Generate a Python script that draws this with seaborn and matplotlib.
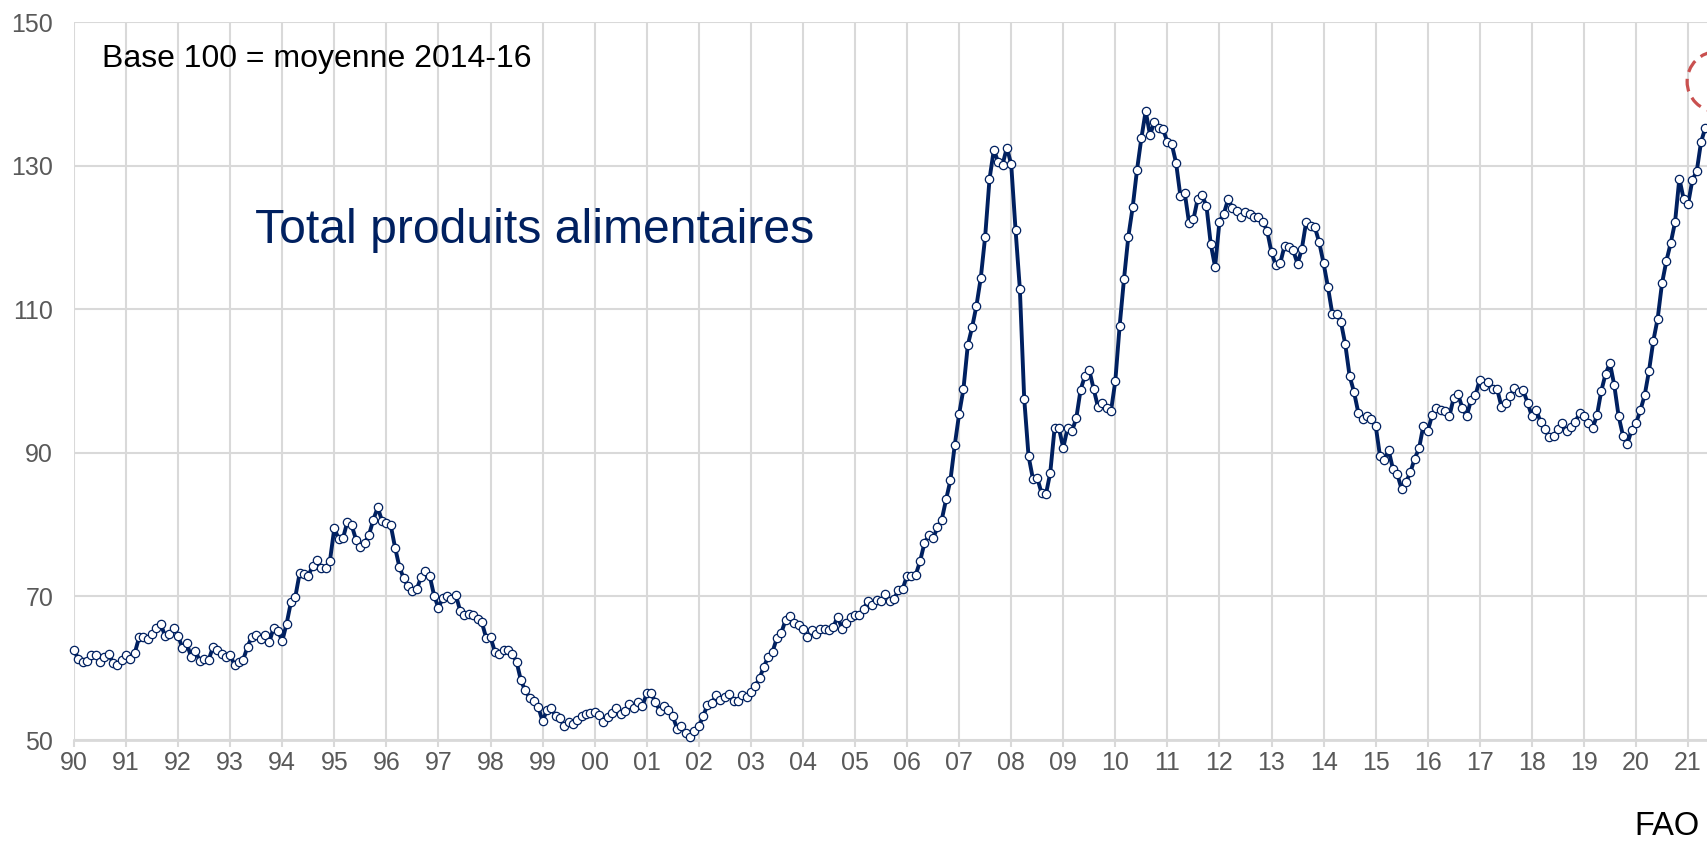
import numpy as np
import pandas as pd
import matplotlib
matplotlib.use("Agg")
import matplotlib.pyplot as plt
import seaborn as sns
from matplotlib.patches import Ellipse

# ---------------- data (monthly FAO food price index) ----------------
year_labels = ["90", "91", "92", "93", "94", "95", "96", "97", "98", "99", "00", "01",
               "02", "03", "04", "05", "06", "07", "08", "09", "10", "11", "12", "13",
               "14", "15", "16", "17", "18", "19", "20", "21"]

food_index = [
    62.5, 61.3, 60.9, 61.0, 61.8, 61.9, 60.8, 61.5, 62.0, 60.7, 60.5, 61.1,    # 1990
    61.8, 61.3, 62.1, 64.3, 64.4, 64.0, 64.8, 65.6, 66.1, 64.5, 64.8, 65.6,    # 1991
    64.5, 62.8, 63.5, 61.5, 62.4, 61.0, 61.3, 61.1, 62.9, 62.5, 62.0, 61.5,    # 1992
    61.9, 60.4, 60.9, 61.2, 63.0, 64.4, 64.6, 64.1, 64.6, 63.6, 65.6, 65.2,    # 1993
    63.8, 66.2, 69.2, 69.9, 73.2, 73.1, 72.8, 74.3, 75.1, 73.9, 73.9, 75.0,    # 1994
    79.5, 78.0, 78.1, 80.4, 79.9, 77.9, 76.9, 77.4, 78.6, 80.7, 82.4, 80.5,    # 1995
    80.2, 79.9, 76.8, 74.1, 72.5, 71.4, 70.8, 71.0, 72.7, 73.5, 72.8, 70.1,    # 1996
    68.4, 69.8, 70.0, 69.7, 70.2, 68.0, 67.4, 67.6, 67.4, 66.9, 66.4, 64.2,    # 1997
    64.3, 62.3, 62.0, 62.6, 62.5, 62.0, 60.9, 58.3, 56.9, 55.9, 55.4, 54.6,    # 1998
    52.6, 54.2, 54.5, 53.3, 53.1, 51.9, 52.5, 52.2, 52.8, 53.3, 53.6, 53.8,    # 1999
    53.95, 53.5, 52.5, 53.2, 53.7, 54.4, 53.65, 54.1, 54.95, 54.5, 55.3, 54.7,  # 2000
    56.5, 56.5, 55.3, 54.1, 54.7, 54.2, 53.3, 51.6, 51.9, 50.95, 50.4, 51.2,   # 2001
    51.9, 53.3, 54.9, 55.1, 56.2, 55.6, 56.0, 56.4, 55.4, 55.4, 56.2, 56.0,    # 2002
    56.7, 57.5, 58.6, 60.2, 61.6, 62.3, 64.2, 64.9, 66.7, 67.3, 66.3, 66.0,    # 2003
    65.5, 64.4, 65.3, 64.7, 65.4, 65.5, 65.3, 65.7, 67.2, 65.5, 66.3, 67.1,    # 2004
    67.4, 67.4, 68.3, 69.35, 68.8, 69.45, 69.35, 70.4, 69.3, 69.6, 70.9, 71.05,  # 2005
    72.9, 72.8, 73.0, 74.9, 77.4, 78.5, 78.1, 79.6, 80.7, 83.5, 86.2, 91.1,    # 2006
    95.4, 98.9, 105.0, 107.5, 110.5, 114.4, 120.1, 128.1, 132.2, 130.5, 130.1, 132.5,  # 2007
    130.2, 121.1, 112.8, 97.55, 89.55, 86.4, 86.5, 84.4, 84.2, 87.2, 93.4, 93.4,  # 2008
    90.7, 93.45, 93.0, 94.8, 98.8, 100.7, 101.5, 98.9, 96.4, 96.9, 96.3, 95.8,  # 2009
    100.0, 107.7, 114.2, 120.1, 124.2, 129.4, 133.8, 137.6, 134.25, 136.1, 135.3, 135.05,  # 2010
    133.3, 133.0, 130.4, 125.75, 126.2, 122.0, 122.5, 125.4, 125.85, 124.4, 119.05, 115.9,  # 2011
    122.2, 123.3, 125.3, 124.1, 123.7, 122.8, 123.5, 123.2, 122.9, 122.9, 122.2, 120.9,  # 2012
    117.9, 116.1, 116.4, 118.8, 118.7, 118.2, 116.3, 118.45, 122.2, 121.6, 121.4, 119.3,  # 2013
    116.4, 113.1, 109.4, 109.4, 108.2, 105.1, 100.7, 98.5, 95.6, 94.7, 95.1, 94.7,  # 2014
    93.8, 89.55, 89.05, 90.35, 87.7, 87.0, 84.9, 85.9, 87.3, 89.2, 90.6, 93.8,  # 2015
    93.0, 95.2, 96.2, 95.9, 95.8, 95.1, 97.7, 98.15, 96.2, 95.1, 97.4, 98.0,   # 2016
    100.2, 99.3, 99.9, 98.9, 98.9, 96.4, 96.9, 97.9, 99.0, 98.5, 98.7, 97.0,   # 2017
    95.1, 96.0, 94.3, 93.3, 92.2, 92.3, 93.3, 94.1, 93.1, 93.6, 94.3, 95.5,    # 2018
    95.1, 94.1, 93.4, 95.2, 98.6, 101.0, 102.5, 99.4, 95.1, 92.4, 91.2, 93.2,  # 2019
    94.1, 95.9, 98.0, 101.4, 105.6, 108.7, 113.6, 116.7, 119.2, 122.1, 128.2, 125.3,  # 2020
    124.6, 128.0, 129.2, 133.3, 135.3,                                          # 2021
]

y_ticks = [50, 70, 90, 110, 130, 150]
title_text = "Total produits alimentaires"
base_note = "Base 100 = moyenne 2014-16"
source_note = "FAO"

# highlight annotation (dashed circle just beyond the last value)
highlight_month = 378.7
highlight_value = 141.7

# ---------------- styling ----------------
sns.set_theme(style="white")
plt.rcParams["font.family"] = ["Liberation Sans", "DejaVu Sans"]

navy = "#002060"
grid_col = "#d9d9d9"
tick_col = "#595959"

W, H = 1708, 842
fig = plt.figure(figsize=(W / 100, H / 100), dpi=100)
ax = fig.add_axes([74 / W, 102 / H, 1 - 74 / W, 718 / H])

df = pd.DataFrame({"month": np.arange(len(food_index)), "index": food_index})

sns.lineplot(data=df, x="month", y="index", ax=ax, color=navy, linewidth=2.8,
             marker="o", markersize=6.0, markerfacecolor="white",
             markeredgecolor=navy, markeredgewidth=0.9, clip_on=False, zorder=5)

ax.set_xlim(0, len(food_index) - 0.4)
ax.set_ylim(y_ticks[0], y_ticks[-1])
ax.set_xticks(np.arange(len(year_labels)) * 12)
ax.set_xticklabels(year_labels)
ax.set_yticks(y_ticks)
ax.set_yticklabels([str(t) for t in y_ticks])
ax.set_xlabel("")
ax.set_ylabel("")

ax.grid(True, color=grid_col, linewidth=1.5)
ax.set_axisbelow(True)
for s in ["top", "right", "left"]:
    ax.spines[s].set_visible(False)
ax.spines["bottom"].set_color(grid_col)
ax.spines["bottom"].set_linewidth(2.0)

ax.tick_params(axis="x", length=5, width=1.5, color=grid_col, labelsize=18,
               labelcolor=tick_col, pad=3, bottom=True)
ax.tick_params(axis="y", length=0, labelsize=18, labelcolor=tick_col, pad=15)

# annotation circle
ax.add_patch(Ellipse((highlight_month, highlight_value), 13.83, 8.36, fill=False,
                     edgecolor="#c9504f", linewidth=2.3, linestyle=(0, (4.0, 2.2)),
                     clip_on=False, zorder=6))

fig.text(102 / W, 1 - 66.7 / H, base_note, fontsize=23, color="black",
         ha="left", va="baseline")
fig.text(255 / W, 1 - 243 / H, title_text, fontsize=34.7, color=navy,
         ha="left", va="baseline")
fig.text(1700 / W, 1 - 835 / H, source_note, fontsize=23.5, color="black",
         ha="right", va="baseline")

fig.savefig("out.png", dpi=100)
